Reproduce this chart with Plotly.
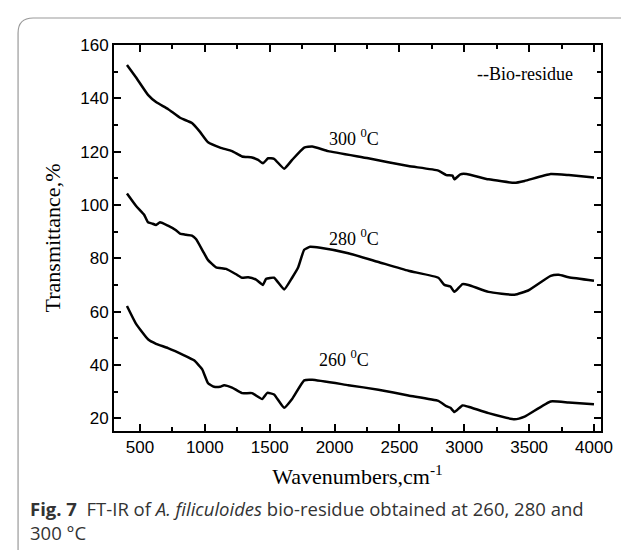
import plotly.graph_objects as go

# wavenumbers (cm-1) and transmittance (%)
wn_300 = [400, 469, 562, 624, 716, 809, 901, 963, 1025, 1118, 1210, 1287, 1364, 1411, 1448,
          1488, 1534, 1612, 1673, 1766, 1828, 1951, 2260, 2569, 2800, 2862, 2909, 2924, 2970,
          3017, 3187, 3388, 3465, 3666, 3805, 4000]
t_300 = [152.5, 147.9, 141.3, 138.6, 136.0, 132.7, 130.7, 127.4, 123.5, 121.5, 120.2, 118.2,
         117.8, 116.9, 115.6, 117.5, 117.3, 113.6, 116.9, 121.5, 121.9, 120.2, 117.5, 114.6,
         112.9, 111.2, 111.0, 109.6, 111.5, 111.6, 109.6, 108.3, 109.0, 111.6, 111.2, 110.3]

wn_280 = [400, 469, 531, 562, 590, 624, 655, 716, 778, 809, 855, 901, 932, 994, 1025, 1087,
          1164, 1241, 1287, 1334, 1395, 1448, 1473, 1534, 1612, 1673, 1720, 1766, 1812, 1890,
          2106, 2338, 2569, 2800, 2847, 2893, 2924, 2986, 3032, 3187, 3388, 3496, 3666, 3728,
          3805, 4000]
t_280 = [104.3, 99.7, 96.4, 93.5, 93.1, 92.5, 93.5, 92.2, 90.5, 89.2, 88.8, 88.5, 87.2, 81.9,
         79.3, 76.6, 76.0, 74.0, 72.7, 72.9, 72.0, 70.0, 72.3, 72.7, 68.3, 72.7, 76.6, 83.2,
         84.3, 83.9, 81.9, 78.6, 75.3, 72.7, 70.0, 69.4, 67.4, 70.3, 70.0, 67.4, 66.3, 68.0,
         73.4, 73.8, 72.9, 71.6]

wn_260 = [400, 469, 562, 624, 716, 840, 917, 979, 1025, 1071, 1118, 1149, 1210, 1287, 1364,
          1442, 1482, 1534, 1612, 1673, 1766, 1828, 2106, 2338, 2569, 2800, 2862, 2893, 2924,
          2986, 3032, 3187, 3388, 3465, 3666, 3805, 4000]
t_260 = [62.1, 55.5, 49.6, 47.9, 46.3, 43.6, 41.7, 38.4, 33.1, 31.8, 31.8, 32.4, 31.5, 29.4,
         29.4, 27.2, 29.5, 28.9, 23.9, 27.2, 34.2, 34.4, 32.4, 30.7, 28.5, 26.5, 24.5, 23.9,
         22.3, 24.8, 24.3, 21.9, 19.6, 20.6, 26.3, 25.9, 25.2]

curve_labels = ["300 <sup>0</sup>C", "280 <sup>0</sup>C", "260 <sup>0</sup>C"]
label_x = [2152, 2152, 2075]
label_y = [125.4, 87.8, 42.3]

fig = go.Figure()
for wn, t in [(wn_300, t_300), (wn_280, t_280), (wn_260, t_260)]:
    fig.add_trace(go.Scatter(x=wn, y=t, mode="lines",
                             line=dict(color="black", width=2.5, shape="spline", smoothing=0.4),
                             showlegend=False, hoverinfo="skip"))

serif = "Liberation Serif"
for txt, lx, ly in zip(curve_labels, label_x, label_y):
    fig.add_annotation(x=lx, y=ly, text=txt, showarrow=False,
                       font=dict(family=serif, size=18, color="black"))
fig.add_annotation(x=3465, y=149.2, text="--Bio-residue", showarrow=False,
                   font=dict(family=serif, size=18, color="black"))

# caption below the chart
fig.add_annotation(xref="paper", yref="paper", x=-0.177, y=-0.162, xanchor="left", yanchor="top",
                   align="left", showarrow=False,
                   text="<b>Fig. 7</b>  FT-IR of <i>A. filiculoides</i> bio-residue obtained at 260, 280 and<br>300 °C",
                   font=dict(family="Open Sans", size=18.5, color="#333333"))

# rounded card border
fig.add_shape(type="path", xref="paper", yref="paper",
              path="M -0.197,-0.33 L -0.197,1.031 Q -0.197,1.070 -0.166,1.070 L 1.1,1.070",
              line=dict(color="#9a9a9a", width=1.2))

axis_common = dict(showline=True, linecolor="black", linewidth=2, mirror="allticks",
                   ticks="inside", ticklen=7, tickwidth=2, tickcolor="black", showgrid=False,
                   zeroline=False, tickfont=dict(family="Liberation Sans", size=17, color="black"))

fig.update_xaxes(range=[300, 4054], tick0=500, dtick=500,
                 minor=dict(dtick=250, ticks="inside", ticklen=4, tickwidth=1.5, tickcolor="black"),
                 title=dict(text="Wavenumbers,cm<sup>-1</sup>", standoff=12,
                            font=dict(family=serif, size=22, color="black")),
                 **axis_common)
fig.update_yaxes(range=[15.2, 160], tick0=20, dtick=20,
                 minor=dict(dtick=10, ticks="inside", ticklen=4, tickwidth=1.5, tickcolor="black"),
                 title=dict(text="Transmittance,%", standoff=14,
                            font=dict(family=serif, size=22, color="black")),
                 **axis_common)

fig.update_layout(width=629, height=550, autosize=False,
                  margin=dict(l=106, r=36, t=37, b=127),
                  plot_bgcolor="white", paper_bgcolor="white")

fig.write_html("out.html")
